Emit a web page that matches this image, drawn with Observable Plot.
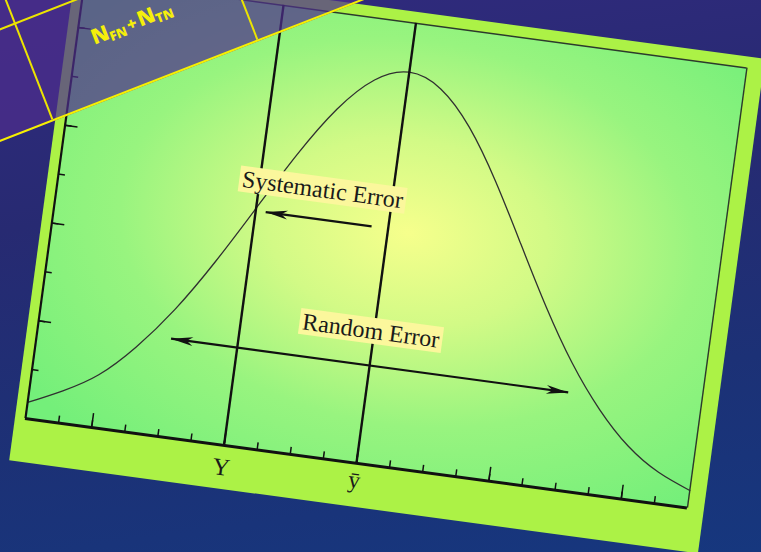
<!DOCTYPE html>
<html>
<head>
<meta charset="utf-8">
<script src="https://cdn.jsdelivr.net/npm/d3@7"></script>
<script src="https://cdn.jsdelivr.net/npm/@observablehq/plot@0.6"></script>
<style>
  html, body { margin: 0; padding: 0; }
  body {
    width: 761px; height: 552px; overflow: hidden; position: relative;
    background: linear-gradient(172deg, #312a7e 0%, #272a72 35%, #1c3176 70%, #16377e 100%);
  }
  #chart {
    position: absolute; left: 15px; top: -37px;
    transform-origin: 10px 455px; transform: rotate(7.7deg);
  }
  #table {
    position: absolute; left: 0; top: -58.3px; width: 560px; height: 200px;
    box-sizing: border-box;
    transform-origin: 0 100%; transform: rotate(-21.3deg);
    background: rgba(78, 46, 140, 0.72);
    border-bottom: 2px solid #f7f000;
  }
  #table .col { position: absolute; top: 0; width: 1.5px; height: 100%; background: #ece400; }
  #table .row { position: absolute; left: 0; width: 100%; height: 1.5px; background: #ece400; }
  #table .cell {
    position: absolute; left: 166px; bottom: 61px; transform: translate(-50%, 50%);
    white-space: nowrap; color: #f5ef0a; line-height: 0.8;
    font-family: "Open Sans", sans-serif; font-weight: 800; font-size: 21px;
  }
  #table .cell sub { font-size: 13px; vertical-align: -3px; line-height: 0.8; }
  #table .cell .op { font-size: 17px; margin: 0 2px; }
</style>
</head>
<body>
<div id="chart"></div>
<div id="table">
  <div class="col" style="left:56px"></div>
  <div class="col" style="left:276px"></div>
  <div class="row" style="top:94px"></div>
  <div class="cell">N<sub>FN</sub><span class="op">+</span>N<sub>TN</sub></div>
</div>
<script>
// Bell curve of repeated measurements (x in tick units, y in tick units)
const curveX = [0, 1, 2, 3, 4, 5, 6, 7, 8, 9, 10, 11, 12, 13, 14, 15, 16, 17, 18, 19, 20];
const curveY = [0.33, 0.66, 1.08, 1.74, 2.60, 3.66, 4.85, 6.04, 7.06, 7.75, 8.0, 7.75, 7.06, 6.04, 4.85, 3.66, 2.60, 1.74, 1.08, 0.64, 0.36];

// Axis ticks
const xTicks = [1, 2, 3, 4, 5, 6, 7, 8, 9, 10, 11, 12, 13, 14, 15, 16, 17, 18, 19];
const xMajorTicks = [2, 6, 10, 14, 18];
const yTicks = [1, 2, 3, 4, 5, 6, 7, 8];
const yMajorTicks = [2, 4, 6, 8];

// True value Y and sample mean ȳ
const markerX = [6, 10];
const markerNames = ["Y", "ȳ"];

// Error arrows
const arrowNames = ["Systematic Error", "Random Error"];
const arrowFrom = [9.5, 4.0];
const arrowTo = [6.3, 16.0];
const arrowY = [4.8, 2.0];
const labelX = [7.9, 9.9];
const labelY = [5.4, 2.7];

const curve = curveX.map((x, i) => ({x, y: curveY[i]}));
const arrows = arrowNames.map((name, i) => ({name, x1: arrowFrom[i], x2: arrowTo[i], y: arrowY[i], lx: labelX[i], ly: labelY[i]}));
// arrowheads: systematic points at Y, random error is double-headed
const heads = [
  {x: arrowTo[0], y: arrowY[0], angle: 180},
  {x: arrowFrom[1], y: arrowY[1], angle: 180},
  {x: arrowTo[1], y: arrowY[1], angle: 0}
];
const markers = markerX.map((x, i) => ({x, name: markerNames[i]}));

// narrow filled dart, tip at the origin pointing right
const dart = {
  draw(ctx, size) {
    const s = Math.sqrt(size / Math.PI);
    ctx.moveTo(0, 0);
    ctx.lineTo(-5 * s, -s);
    ctx.lineTo(-3.6 * s, 0);
    ctx.lineTo(-5 * s, s);
    ctx.closePath();
  }
};

const ink = "#111";
const serif = "Liberation Serif, Times New Roman, serif";

const svg = Plot.plot({
  width: 695,
  height: 499,
  marginLeft: 10,
  marginRight: 17,
  marginTop: 11,
  marginBottom: 44,
  style: {background: "#acf246", maxWidth: "none", overflow: "visible"},
  x: {domain: [0, 20]},
  y: {domain: [0, 9]},
  marks: [
    Plot.frame({fill: "url(#plotGlow)"}),
    Plot.axisX(xTicks, {tickSize: -7, tickFormat: () => "", label: null, stroke: ink, strokeWidth: 1.5}),
    Plot.axisX(xMajorTicks, {tickSize: -14, tickFormat: () => "", label: null, stroke: ink, strokeWidth: 1.5}),
    Plot.axisY(yTicks, {tickSize: -7, tickFormat: () => "", label: null, stroke: ink, strokeWidth: 1.5}),
    Plot.axisY(yMajorTicks, {tickSize: -13, tickFormat: () => "", label: null, stroke: ink, strokeWidth: 1.5}),
    Plot.ruleY([9], {stroke: "#2c3a2c", strokeWidth: 1.4}),
    Plot.ruleX([20], {stroke: "#2c3a2c", strokeWidth: 1.4}),
    Plot.line(curve, {x: "x", y: "y", curve: "natural", stroke: "#303030", strokeWidth: 1.3}),
    Plot.ruleX(markers, {x: "x", stroke: ink, strokeWidth: 2.4}),
    Plot.ruleY([0], {stroke: ink, strokeWidth: 3}),
    Plot.ruleX([0], {stroke: ink, strokeWidth: 2.2}),
    Plot.link(arrows, {x1: "x1", x2: "x2", y1: "y", y2: "y", stroke: ink, strokeWidth: 2.2}),
    Plot.dot(heads, {x: "x", y: "y", symbol: dart, r: 4.4, rotate: "angle", fill: ink, stroke: "none"}),
    Plot.text(arrows, {x: "lx", y: "ly", text: "name", fontFamily: serif, fontStyle: "normal", fontSize: 24, fill: "#1a1a1a"}),
    Plot.text(markers.slice(0, 1), {x: "x", y: 0, text: "name", dy: 22, fontFamily: serif, fontStyle: "normal", fontSize: 24, fill: "#1a1a1a"}),
    Plot.text(markers.slice(1), {x: "x", y: 0, text: "name", dy: 17, fontFamily: serif, fontStyle: "normal", fontSize: 24, fill: "#1a1a1a"})
  ]
});

document.getElementById("chart").append(svg);

// soft yellow glow in the middle of the plotting area
const grad = d3.select(svg).insert("defs", ":first-child")
  .append("radialGradient").attr("id", "plotGlow")
  .attr("cx", 0.53).attr("cy", 0.47).attr("r", 0.7);
[[0, "#f6ff8c"], [0.3, "#d2fa86"], [0.62, "#98f47f"], [1, "#74ef7a"]]
  .forEach(([o, c]) => grad.append("stop").attr("offset", o).attr("stop-color", c));

// pale highlight behind the error labels
d3.select(svg).selectAll("text").each(function() {
  if (!arrowNames.includes(this.textContent)) return;
  const b = this.getBBox();
  const r = document.createElementNS("http://www.w3.org/2000/svg", "rect");
  r.setAttribute("x", b.x - 3);
  r.setAttribute("y", b.y);
  r.setAttribute("width", b.width + 6);
  r.setAttribute("height", b.height);
  r.setAttribute("fill", "#fbf79c");
  const t = this.getAttribute("transform");
  if (t) r.setAttribute("transform", t);
  this.parentNode.insertBefore(r, this);
});
</script>
</body>
</html>
